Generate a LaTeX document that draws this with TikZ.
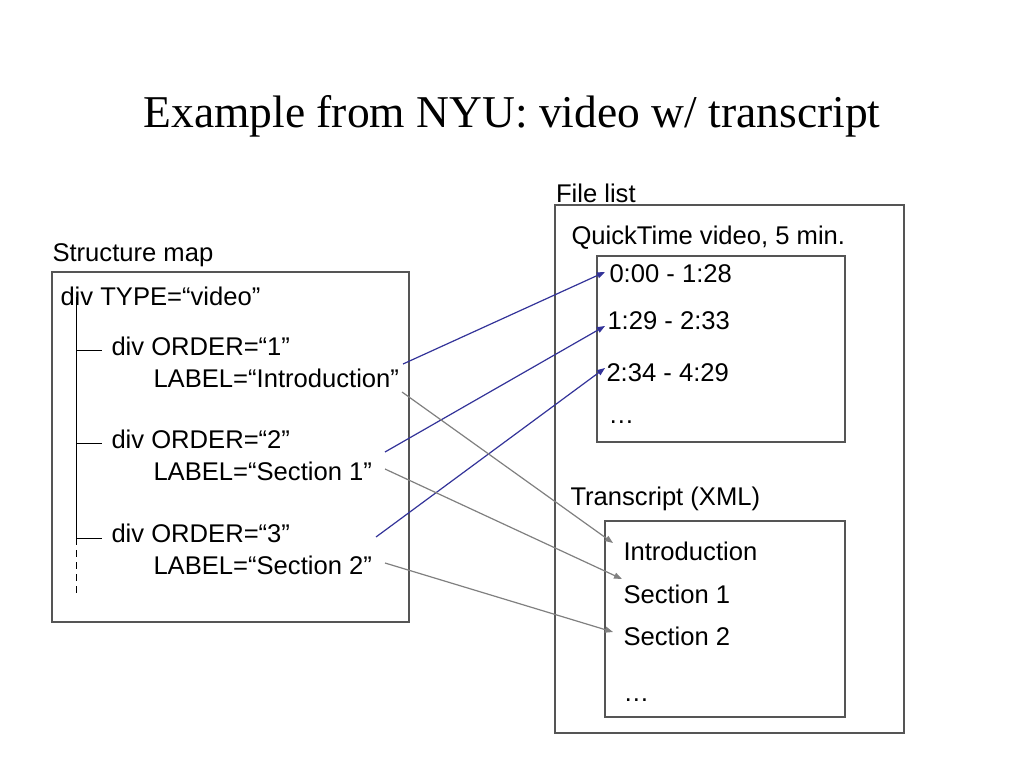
\documentclass[tikz,border=0pt]{standalone}
\usepackage{fontspec}
\setmainfont{Liberation Sans}
\newfontfamily\titlefont{Liberation Serif}
\usetikzlibrary{arrows.meta}
\definecolor{navy}{HTML}{333399}
\definecolor{boxgrey}{HTML}{555555}
\definecolor{arrgrey}{HTML}{808080}
\tikzset{
  txt/.style={anchor=base west, inner sep=0pt, outer sep=0pt, font=\fontsize{25.6bp}{30bp}\selectfont},
  frame/.style={draw=boxgrey, line width=1.3bp},
  tree/.style={draw=black, line width=1bp},
  bluearr/.style={draw=navy, line width=1.2bp, -{Triangle[length=8bp,width=6bp]}},
  greyarr/.style={draw=arrgrey, line width=1.2bp, -{Triangle[length=8bp,width=6bp]}}
}
\begin{document}
\begin{tikzpicture}[x=1bp,y=-1bp]
\useasboundingbox[fill=white] (0,0) rectangle (1024,768);
% title
\node[anchor=base, inner sep=0pt, font=\titlefont\fontsize{45.5bp}{50bp}\selectfont] (title) at (512,127) {Example from NYU: video w/ transcript};
% left box
\node[txt] (smap) at (52.5,261) {Structure map};
\draw[frame] (52,272) rectangle (409,622);
\node[txt] (type) at (60.5,305) {div TYPE=“video”};
\node[txt] (o1) at (111.5,355) {div ORDER=“1”};
\node[txt] (l1) at (153.5,387) {LABEL=“Introduction”};
\node[txt] (o2) at (111.5,448) {div ORDER=“2”};
\node[txt] (l2) at (153.5,480) {LABEL=“Section 1”};
\node[txt] (o3) at (111.5,542) {div ORDER=“3”};
\node[txt] (l3) at (153.5,574) {LABEL=“Section 2”};
% tree lines
\coordinate (ttop) at (76,297);
\coordinate (t1) at (76,350);
\coordinate (t2) at (76,443);
\coordinate (t3) at (76,538);
\coordinate (tbot) at (76,597);
\draw[tree] (ttop) -- (t3);
\draw[tree, dash pattern=on 7bp off 5bp] (t3) -- (tbot);
\draw[tree] (t1) -- ++(26,0);
\draw[tree] (t2) -- ++(26,0);
\draw[tree] (t3) -- ++(26,0);
% right outer box
\node[txt] (flist) at (556,202) {File list};
\draw[frame] (555,205) rectangle (904,733);
\node[txt] (qt) at (571.5,244) {QuickTime video, 5 min.};
\draw[frame] (597,256) rectangle (845,442);
\node[txt] (v1) at (609.5,282) {0:00 - 1:28};
\node[txt] (v2) at (607.5,329) {1:29 - 2:33};
\node[txt] (v3) at (606.5,381) {2:34 - 4:29};
\node[txt] (v4) at (608.5,423) {…};
\node[txt] (tx) at (570.5,505) {Transcript (XML)};
\draw[frame] (605,521) rectangle (845,717);
\node[txt] (s1) at (623.5,560) {Introduction};
\node[txt] (s2) at (623.5,603) {Section 1};
\node[txt] (s3) at (623.5,645) {Section 2};
\node[txt] (s4) at (623.5,701) {…};
% connector ends
\coordinate (b1s) at (403,364);
\coordinate (b1e) at (605,272);
\coordinate (b2s) at (385,452);
\coordinate (b2e) at (605,326);
\coordinate (b3s) at (376,537);
\coordinate (b3e) at (605,368);
\coordinate (g1s) at (402,392);
\coordinate (g1e) at (613,543);
\coordinate (g2s) at (385,469);
\coordinate (g2e) at (622,579);
\coordinate (g3s) at (385,563);
\coordinate (g3e) at (613,632);
\draw[bluearr] (b1s) -- (b1e);
\draw[bluearr] (b2s) -- (b2e);
\draw[bluearr] (b3s) -- (b3e);
\draw[greyarr] (g1s) -- (g1e);
\draw[greyarr] (g2s) -- (g2e);
\draw[greyarr] (g3s) -- (g3e);
\end{tikzpicture}
\end{document}
